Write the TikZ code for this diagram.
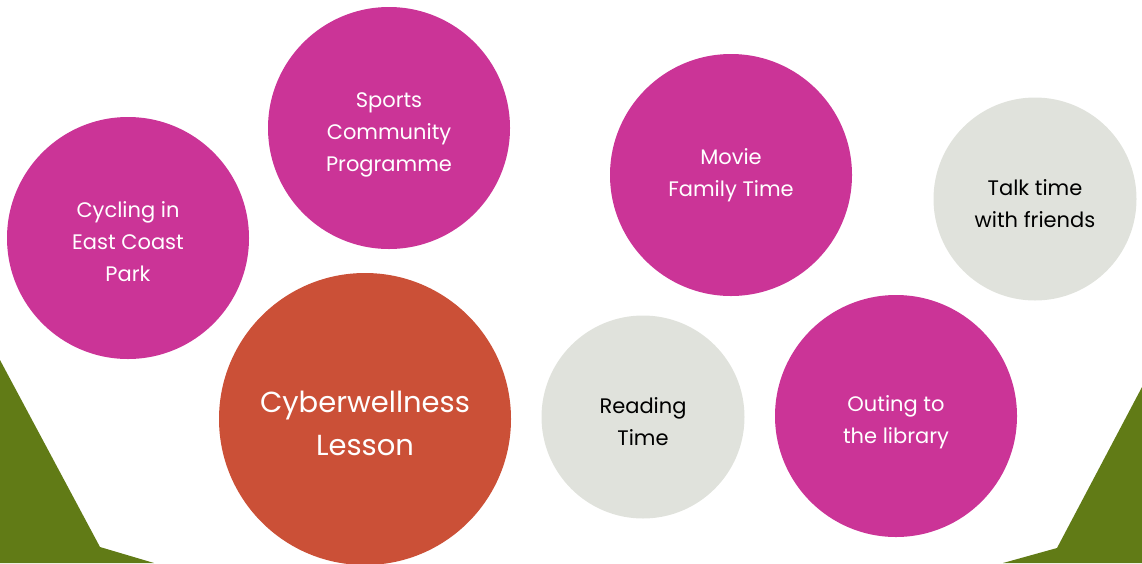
\documentclass[tikz,border=0pt]{standalone}
\usepackage{xcolor}
\usepackage{fontspec}
\setmainfont{Poppins}
\usepackage{tikz}
\usetikzlibrary{positioning}

\definecolor{magentabub}{HTML}{CB3497}
\definecolor{orangebub}{HTML}{CB5037}
\definecolor{greybub}{HTML}{E0E2DC}
\definecolor{grassgreen}{HTML}{617B16}

\tikzset{
  bubble/.style={circle, fill=magentabub, inner sep=0pt},
  greybubble/.style={bubble, fill=greybub},
  bigbubble/.style={bubble, fill=orangebub},
  bubbletext/.style={text=white, align=center, inner sep=0pt,
    font=\fontsize{21}{32}\selectfont},
  greytext/.style={bubbletext, text=black},
  bigtext/.style={bubbletext, font=\fontsize{29}{43}\selectfont}
}

\begin{document}
\begin{tikzpicture}[x=1pt,y=-1pt]
\useasboundingbox (0,0) rectangle (1142,563);

% Green corners
\fill[grassgreen] (0,360) -- (100,547) -- (154,563) -- (0,563) -- cycle;
\fill[grassgreen] (1142,387) -- (1057,548) -- (1003,563) -- (1142,563) -- cycle;

% Top row
\node[bubble, minimum size=242pt] (cycling) at (128,238) {};
\node[bubbletext] (cyclingtext) at ([yshift=-4pt]cycling.center) {Cycling in\\East Coast\\Park};
\node[bubble, minimum size=242pt] (sports) at (389,128) {};
\node[bubbletext] (sportstext) at ([yshift=-7pt]sports.center) {Sports\\Community\\Programme};
\node[bubble, minimum size=242pt] (movie) at (731,175) {};
\node[bubbletext] (movietext) at (movie.center) {Movie\\Family Time};
\node[greybubble, minimum size=203pt] (talk) at (1035,199) {};
\node[greytext] (talktext) at ([yshift=-5pt]talk.center) {Talk time\\with friends};

% Bottom row
\node[bigbubble, minimum size=292pt] (cyber) at (365,419) {};
\node[bigtext] (cybertext) at ([yshift=-4pt]cyber.center) {Cyberwellness\\Lesson};
\node[greybubble, minimum size=203pt] (reading) at (643,417) {};
\node[greytext] (readingtext) at ([yshift=-5pt]reading.center) {Reading\\Time};
\node[bubble, minimum size=242pt] (outing) at (896,416) {};
\node[bubbletext] (outingtext) at ([yshift=-6pt]outing.center) {Outing to\\the library};

\end{tikzpicture}
\end{document}
